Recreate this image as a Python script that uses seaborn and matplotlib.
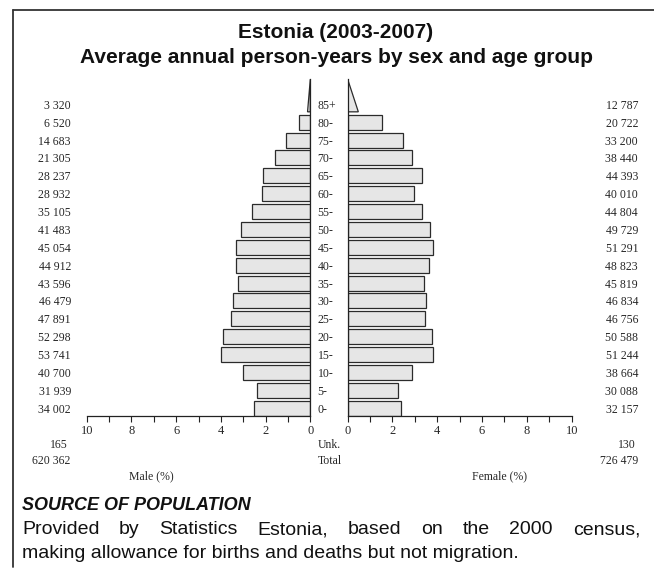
import matplotlib
matplotlib.use('Agg')
import matplotlib.pyplot as plt
import matplotlib.transforms as mtransforms
from matplotlib.lines import Line2D
from matplotlib.patches import Polygon
import pandas as pd
import seaborn as sns

sns.set_style("white")
plt.rcParams['font.family'] = ['Liberation Serif', 'DejaVu Serif']

# data
ages = ['85+', '80-', '75-', '70-', '65-', '60-', '55-', '50-', '45-',
        '40-', '35-', '30-', '25-', '20-', '15-', '10-', '5-', '0-']
male = [3320, 6520, 14683, 21305, 28237, 28932, 35105, 41483, 45054,
        44912, 43596, 46479, 47891, 52298, 53741, 40700, 31939, 34002]
female = [12787, 20722, 33200, 38440, 44393, 40010, 44804, 49729, 51291,
          48823, 45819, 46834, 46756, 50588, 51244, 38664, 30088, 32157]
unk_male, unk_female = 165, 130
total_male, total_female = 620362, 726479

grand = total_male + total_female
df = pd.DataFrame({'age': ages, 'male': male, 'female': female})
df['male_pct'] = df['male'] / grand * 100
df['female_pct'] = df['female'] / grand * 100
bars = df.iloc[1:]          # 85+ is drawn as a wedge
old = df.iloc[0]

W, H = 654, 569
fig = plt.figure(figsize=(W / 100, H / 100), dpi=100)

ax_b, ax_h = 1 - 415.7 / H, 336.4 / H
axL = fig.add_axes([86.7 / W, ax_b, 223.6 / W, ax_h])
axR = fig.add_axes([347.7 / W, ax_b, 224 / W, ax_h])

fill, edge = '#e6e6e6', '#2b2b2b'
sns.barplot(data=bars, x='male_pct', y='age', orient='h', color=fill,
            saturation=1, edgecolor=edge, linewidth=0.9, width=0.84, ax=axL)
sns.barplot(data=bars, x='female_pct', y='age', orient='h', color=fill,
            saturation=1, edgecolor=edge, linewidth=0.9, width=0.84, ax=axR)

y_top, y_bot = -2.4, 16.42
for ax, p in [(axL, old['male_pct']), (axR, old['female_pct'])]:
    ax.add_patch(Polygon([(0, -0.58), (p / 2, -0.58), (0, y_top)],
                         closed=True, facecolor=fill, edgecolor=edge, lw=0.9))
    ax.set_ylim(y_bot, y_top)
    ax.set_xticks(range(0, 11, 2))
    ax.set_xticks(range(1, 10, 2), minor=True)
    ax.tick_params(axis='x', which='both', direction='out', length=4,
                   width=0.8, color='#222', labelsize=9, pad=3,
                   bottom=True)
    ax.set_yticks([])
    ax.set_xlabel('')
    ax.set_ylabel('')
    ax.set_facecolor('none')
    for s in ax.spines.values():
        s.set_color('#222')
        s.set_linewidth(0.9)

axL.set_xlim(10, 0)
axR.set_xlim(0, 10)
axL.spines[['left', 'top']].set_visible(False)
axR.spines[['right', 'top']].set_visible(False)

# labels down the middle and the counts at the sides
trans = mtransforms.blended_transform_factory(fig.transFigure, axL.transData)
rows = [-1] + list(range(len(bars)))
for r, a, m, f in zip(rows, ages, male, female):
    fig.text(317.7 / W, r, a, transform=trans, fontsize=8.5, va='center_baseline')
    fig.text(71 / W, r, f'{m:,}'.replace(',', ' '), transform=trans,
             fontsize=8.5, ha='right', va='center_baseline')
    fig.text(638 / W, r, f'{f:,}'.replace(',', ' '), transform=trans,
             fontsize=8.5, ha='right', va='center_baseline')

def t(x, y, s, **kw):
    fig.text(x / W, 1 - y / H, s, **kw)

t(318, 444, 'Unk.', fontsize=8.5, va='center_baseline')
t(318, 460, 'Total', fontsize=8.5, va='center_baseline')
t(68, 444, str(unk_male), fontsize=8.5, ha='right', va='center_baseline')
t(636, 444, str(unk_female), fontsize=8.5, ha='right', va='center_baseline')
t(70, 460, f'{total_male:,}'.replace(',', ' '), fontsize=8.5, ha='right',
  va='center_baseline')
t(638, 460, f'{total_female:,}'.replace(',', ' '), fontsize=8.5, ha='right',
  va='center_baseline')
t(151, 475, 'Male (%)', fontsize=8.5, ha='center', va='center_baseline')
t(500, 475, 'Female (%)', fontsize=8.5, ha='center', va='center_baseline')

sans = ['Liberation Sans', 'DejaVu Sans']
t(336, 33, 'Estonia (2003-2007)', family=sans, fontsize=15, weight='bold',
  ha='center', va='center', color='#111')
t(336, 57, 'Average annual person-years by sex and age group', family=sans,
  fontsize=15, weight='bold', ha='center', va='center', color='#111')
t(22, 506, 'SOURCE OF POPULATION', family=sans, fontsize=13, weight='bold',
  style='italic', va='center', color='#111')

# justified first line of the source note
words = 'Provided by Statistics Estonia, based on the 2000 census,'.split()
renderer = fig.canvas.get_renderer()
objs = [fig.text(0, 1 - 530 / H, w, family=sans, fontsize=14, va='center',
                 color='#111') for w in words]
widths = [o.get_window_extent(renderer).width for o in objs]
gap = (640 - 22 - sum(widths)) / (len(words) - 1)
x = 22
for o, w in zip(objs, widths):
    o.set_x(x / W)
    x += w + gap
t(22, 553, 'making allowance for births and deaths but not migration.',
  family=sans, fontsize=14, va='center', color='#111')

# frame
fig.add_artist(Line2D([13 / W, 1], [1 - 10 / H, 1 - 10 / H], color='#333', lw=1.3))
fig.add_artist(Line2D([13 / W, 13 / W], [1 - 10 / H, 1 - 567 / H], color='#333', lw=1.3))

fig.savefig('out.png', dpi=100)
